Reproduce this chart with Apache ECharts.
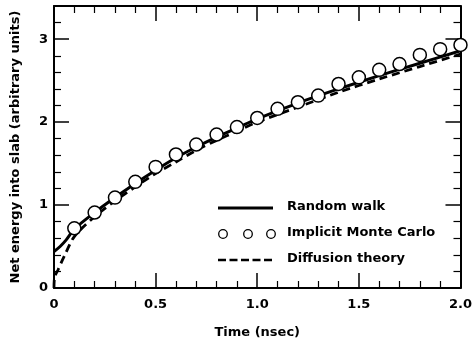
<!DOCTYPE html>
<html><head><meta charset="utf-8">
<script src="https://cdn.jsdelivr.net/npm/echarts@6/dist/echarts.min.js"></script>
<style>html,body{margin:0;padding:0;background:#fff}#c{width:475px;height:344px}</style>
</head><body><div id="c"></div>
<script>
// Random walk (solid)
var rwTime = [0, 0.03, 0.06, 0.1, 0.2, 0.3, 0.4, 0.5, 0.6, 0.7, 0.8, 0.9, 1.0, 1.2, 1.4, 1.6, 1.8, 2.0];
var rwEnergy = [0.44, 0.50, 0.58, 0.71, 0.91, 1.09, 1.26, 1.42, 1.57, 1.70, 1.82, 1.93, 2.04, 2.23, 2.40, 2.56, 2.71, 2.86];
// Implicit Monte Carlo (circles)
var mcTime = [0.1, 0.2, 0.3, 0.4, 0.5, 0.6, 0.7, 0.8, 0.9, 1.0, 1.1, 1.2, 1.3, 1.4, 1.5, 1.6, 1.7, 1.8, 1.9, 2.0];
var mcEnergy = [0.72, 0.91, 1.09, 1.28, 1.46, 1.61, 1.73, 1.85, 1.94, 2.05, 2.16, 2.24, 2.32, 2.46, 2.54, 2.63, 2.70, 2.81, 2.88, 2.93];
// Diffusion theory (dashed)
var dfTime = [0, 0.003, 0.02, 0.05, 0.1, 0.2, 0.3, 0.4, 0.5, 0.6, 0.7, 0.8, 0.9, 1.0, 1.2, 1.4, 1.6, 1.8, 2.0];
var dfEnergy = [0, 0.13, 0.22, 0.38, 0.62, 0.86, 1.05, 1.22, 1.38, 1.52, 1.66, 1.78, 1.89, 2.00, 2.18, 2.36, 2.52, 2.67, 2.82];
var xTicks = [0, 0.5, 1.0, 1.5, 2.0];
var yTicks = [0, 1, 2, 3];
var legendNames = ['Random walk', 'Implicit Monte Carlo', 'Diffusion theory'];

function pairs(a, b) { return a.map(function (v, i) { return [v, b[i]]; }); }

var FONT = 'DejaVu Sans';
var TXT = { fontFamily: FONT, fontWeight: 'bold', fontSize: 13, color: '#000' };
var chart = echarts.init(document.getElementById('c'), null, { renderer: 'canvas' });
var axisLine = { show: true, onZero: false, lineStyle: { color: '#000', width: 2 } };
var tick = { show: true, inside: true, length: 15, lineStyle: { color: '#000', width: 1.5 } };
var minor = { show: true, splitNumber: 5, length: 7, lineStyle: { color: '#000', width: 1.2 } };

var xBase = { type: 'value', min: 0, max: 2, interval: 0.5, axisLine: axisLine, axisTick: tick, minorTick: minor, splitLine: { show: false }, minorSplitLine: { show: false } };
var yBase = { type: 'value', min: 0, max: 3.4, interval: 1, axisLine: axisLine, axisTick: tick, minorTick: minor, splitLine: { show: false }, minorSplitLine: { show: false } };

chart.setOption({
  animation: false,
  grid: { left: 54, right: 11, top: 6, bottom: 54, containLabel: false },
  xAxis: [
    Object.assign({}, xBase, {
      position: 'bottom',
      name: 'Time (nsec)', nameLocation: 'middle', nameGap: 38,
      nameTextStyle: TXT,
      axisLabel: Object.assign({ show: true, margin: 10,
        formatter: function (v) { return xTicks.indexOf(v) >= 0 ? (v === 0 ? '0' : v.toFixed(1)) : ''; } }, TXT)
    }),
    Object.assign({}, xBase, { position: 'top', axisLabel: { show: false } })
  ],
  yAxis: [
    Object.assign({}, yBase, {
      position: 'left',
      name: 'Net energy into slab (arbitrary units)', nameLocation: 'middle', nameGap: 32, nameRotate: 90,
      nameTextStyle: TXT,
      axisLabel: Object.assign({ show: true, margin: 6,
        formatter: function (v) { return yTicks.indexOf(v) >= 0 ? String(v) : ''; } }, TXT)
    }),
    Object.assign({}, yBase, { position: 'right', axisLabel: { show: false } })
  ],
  series: [
    { name: legendNames[2], type: 'line', data: pairs(dfTime, dfEnergy), smooth: 0.3, symbol: 'none',
      lineStyle: { color: '#000', width: 2.8, type: [8, 5] }, z: 2 },
    { name: legendNames[0], type: 'line', data: pairs(rwTime, rwEnergy), smooth: 0.3, symbol: 'none',
      lineStyle: { color: '#000', width: 3 }, z: 3 },
    { name: legendNames[1], type: 'scatter', data: pairs(mcTime, mcEnergy), symbol: 'circle', symbolSize: 13,
      itemStyle: { color: '#fff', borderColor: '#000', borderWidth: 1.5, opacity: 1 }, z: 5 }
  ],
  graphic: [
    { type: 'line', shape: { x1: 218, y1: 208, x2: 273, y2: 208 }, style: { stroke: '#000', lineWidth: 3 } },
    { type: 'text', left: 287, top: 200, style: { text: legendNames[0], font: 'bold 13px "DejaVu Sans"', fill: '#000' } },
    { type: 'circle', shape: { cx: 223, cy: 234, r: 4.3 }, style: { fill: '#fff', stroke: '#000', lineWidth: 1.3 } },
    { type: 'circle', shape: { cx: 248, cy: 234, r: 4.3 }, style: { fill: '#fff', stroke: '#000', lineWidth: 1.3 } },
    { type: 'circle', shape: { cx: 271, cy: 234, r: 4.3 }, style: { fill: '#fff', stroke: '#000', lineWidth: 1.3 } },
    { type: 'text', left: 287, top: 226, style: { text: legendNames[1], font: 'bold 13px "DejaVu Sans"', fill: '#000' } },
    { type: 'line', shape: { x1: 218, y1: 260, x2: 273, y2: 260 }, style: { stroke: '#000', lineWidth: 2.6, lineDash: [8, 3.5] } },
    { type: 'text', left: 287, top: 252, style: { text: legendNames[2], font: 'bold 13px "DejaVu Sans"', fill: '#000' } }
  ]
});
</script></body></html>
